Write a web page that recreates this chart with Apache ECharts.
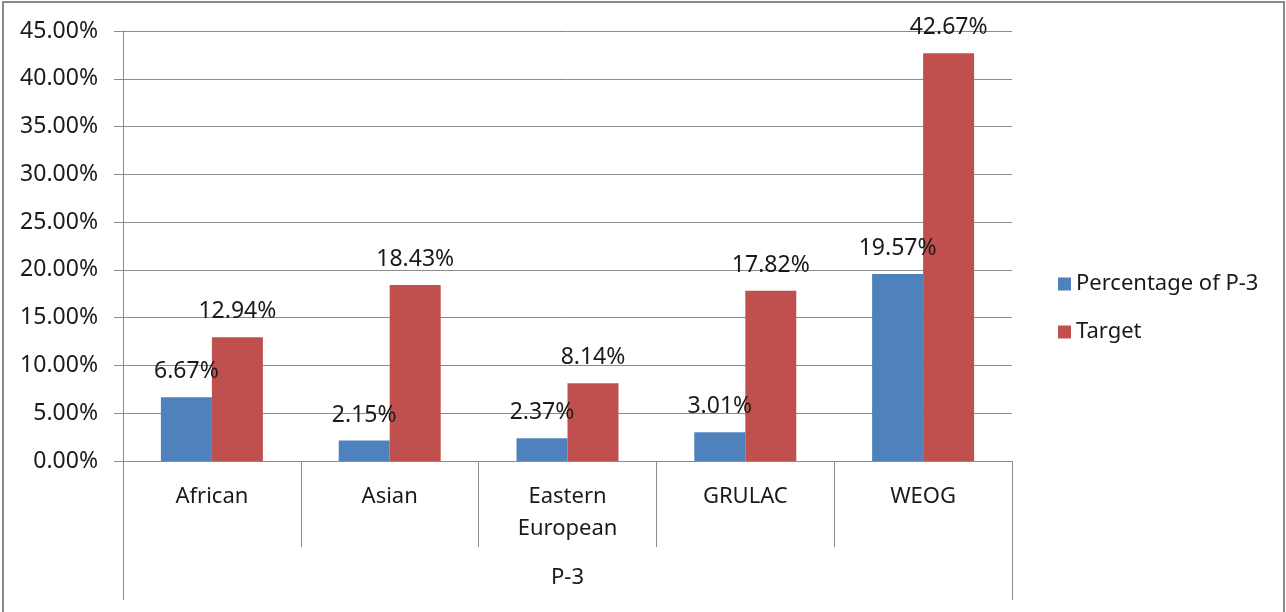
<!DOCTYPE html>
<html>
<head>
<meta charset="utf-8">
<script src="https://cdn.jsdelivr.net/npm/echarts@6/dist/echarts.min.js"></script>
<style>
html,body{margin:0;padding:0;background:#fff;}
#c{width:1286px;height:612px;}
</style>
</head>
<body>
<div id="c"></div>
<script>
var categories = ['African', 'Asian', 'Eastern\nEuropean', 'GRULAC', 'WEOG'];
var groupLabel = ['P-3'];
var percentageOfP3 = [6.67, 2.15, 2.37, 3.01, 19.57];
var target = [12.94, 18.43, 8.14, 17.82, 42.67];
var seriesNames = ['Percentage of P-3', 'Target'];

var FONT = 'Noto Sans';
var lineColor = '#8c8c8c';
var chart = echarts.init(document.getElementById('c'));
function pct(v){ return v.toFixed(2) + '%'; }
var labelStyle = {
  show: true, position: 'top', distance: 14,
  fontFamily: FONT, fontSize: 23, color: '#1a1a1a',
  formatter: function(p){ return pct(p.value); }
};
chart.setOption({
  animation: false,
  textStyle: { fontFamily: FONT },
  graphic: [{
    type: 'rect', z: -10, silent: true,
    shape: { x: 3, y: 2, width: 1281, height: 640 },
    style: { fill: 'none', stroke: '#8a8a8a', lineWidth: 2 }
  }],
  grid: { left: 123, right: 274, top: 31, bottom: 151 },
  legend: {
    orient: 'vertical', left: 1053, top: 268,
    itemWidth: 13, itemHeight: 13, itemGap: 26,
    icon: 'rect',
    textStyle: { fontFamily: FONT, fontSize: 22, color: '#1a1a1a', padding: [0, 0, 0, 0] },
    data: seriesNames
  },
  xAxis: [{
    type: 'category', data: categories,
    axisLine: { show: true, lineStyle: { color: lineColor, width: 1 } },
    axisTick: { show: true, length: 86, interval: 0, lineStyle: { color: lineColor } },
    axisLabel: { interval: 0, margin: 20, fontFamily: FONT, fontSize: 22, color: '#1a1a1a', lineHeight: 32 },
    splitLine: { show: false }
  }, {
    type: 'category', data: groupLabel, position: 'bottom',
    axisLine: { show: false },
    axisTick: { show: true, length: 139, interval: 0, lineStyle: { color: lineColor } },
    axisLabel: { margin: 106, fontFamily: FONT, fontSize: 22, color: '#1a1a1a' },
    splitLine: { show: false }
  }],
  yAxis: {
    type: 'value', min: 0, max: 45, interval: 5,
    axisLine: { show: true, lineStyle: { color: lineColor } },
    axisTick: { show: true, length: 9, lineStyle: { color: lineColor } },
    axisLabel: { margin: 25, fontFamily: FONT, fontSize: 23, color: '#1a1a1a', formatter: pct },
    splitLine: { show: true, lineStyle: { color: lineColor, width: 1 } }
  },
  series: [{
    name: seriesNames[0], type: 'bar', xAxisIndex: 0, data: percentageOfP3,
    barWidth: 51, barGap: '0%',
    itemStyle: { color: '#4F81BD' }, label: labelStyle
  }, {
    name: seriesNames[1], type: 'bar', xAxisIndex: 0, data: target,
    barWidth: 51, barGap: '0%',
    itemStyle: { color: '#C0504D' }, label: labelStyle
  }]
});
</script>
</body>
</html>
